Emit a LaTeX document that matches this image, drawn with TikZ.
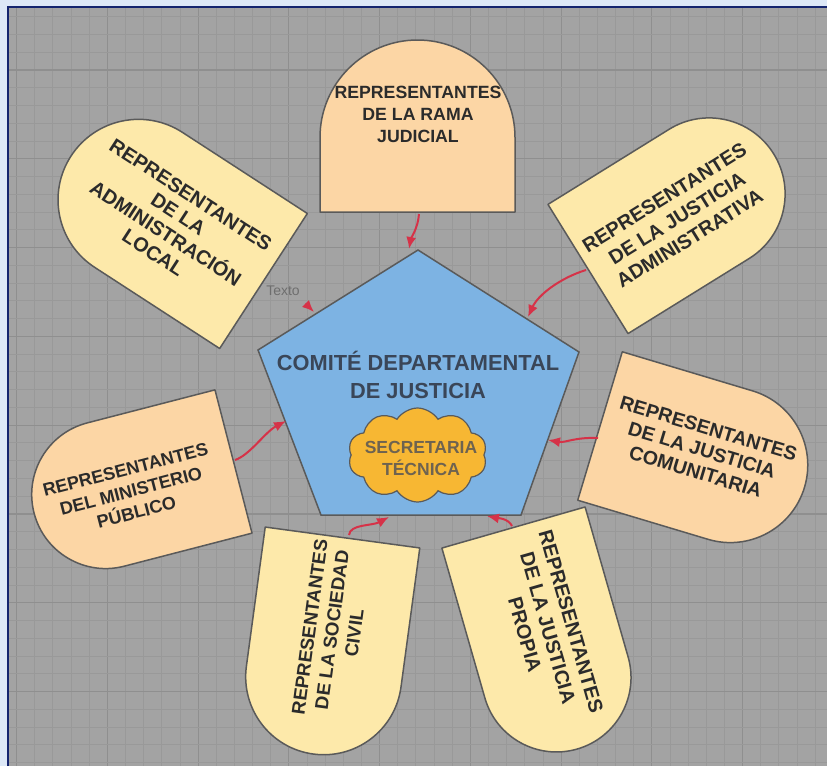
\documentclass[tikz,border=0pt]{standalone}
\usepackage{fontspec}
\setmainfont{Liberation Sans}
\usetikzlibrary{shapes.symbols,arrows.meta,calc}
\definecolor{outerbg}{HTML}{DDE8F7}
\definecolor{navy}{HTML}{14246E}
\definecolor{gridbg}{HTML}{A3A3A3}
\definecolor{gridminor}{HTML}{999999}
\definecolor{gridmajor}{HTML}{8F8F8F}
\definecolor{pentblue}{HTML}{7DB3E3}
\definecolor{cloudfill}{HTML}{F7B733}
\definecolor{peach}{HTML}{FCD6A5}
\definecolor{lightyel}{HTML}{FDE9AA}
\definecolor{outlinegray}{HTML}{5A5A5A}
\definecolor{arrowred}{HTML}{D63248}
\definecolor{titletext}{HTML}{3A4658}
\definecolor{cloudtext}{HTML}{6E6350}
\definecolor{shapetext}{HTML}{2B2B2B}
\definecolor{notetext}{HTML}{6E6E6E}
\newcommand{\dshp}[6]{%
  \draw[dshape, fill=#6, shift={(#1,#2)}, rotate=#3]
    (-#4pt,0pt) -- (-#4pt,#5pt) arc[start angle=180,end angle=0,radius=#4pt] -- (#4pt,0pt) -- cycle;}
\begin{document}
\begin{tikzpicture}[x=1pt,y=-1pt,
  dshape/.style={draw=outlinegray, line width=1.5pt, line join=round},
  lbl/.style 2 args={font=\bfseries\fontsize{#1}{#2}\selectfont, text=shapetext, align=center, inner sep=0pt},
  conn/.style={draw=arrowred, line width=2pt, -{Latex[length=12pt,width=10pt]}},
]
\useasboundingbox (0,0) rectangle (827,766);
\fill[outerbg] (0,0) rectangle (827,766);
\fill[gridbg] (8,6) rectangle (827,766);
% grid
\foreach \k in {0,...,44}{
  \pgfmathsetmacro\gx{16.6+18.15*\k}
  \pgfmathtruncatemacro\gm{mod(\k,5)}
  \ifnum\gm=0 \draw[gridmajor, line width=1.2pt] (\gx,8) -- (\gx,766);
  \else \draw[gridminor, line width=0.9pt] (\gx,8) -- (\gx,766); \fi
}
\foreach \k in {0,...,42}{
  \pgfmathsetmacro\gy{16.7+17.76*\k}
  \pgfmathtruncatemacro\gm{mod(\k,5)}
  \ifnum\gm=3 \draw[gridmajor, line width=1.2pt] (9,\gy) -- (827,\gy);
  \else \draw[gridminor, line width=0.9pt] (9,\gy) -- (827,\gy); \fi
}
\draw[navy, line width=2.6pt] (8,766) -- (8,7) -- (827,7);

% D shapes
\dshp{417.5}{212}{0}{97.5}{74.5}{peach}
\dshp{263.5}{281}{57}{80.5}{149}{lightyel}
\dshp{588}{269}{-58.2}{76}{142.5}{lightyel}
\dshp{600}{426}{-106.7}{77.5}{136}{peach}
\dshp{233.5}{461.5}{104.5}{74}{132}{peach}
\dshp{342.5}{537.5}{172.3}{78}{140.5}{lightyel}
\dshp{513.5}{527.5}{-164}{74.5}{156}{lightyel}

% pentagon
\coordinate (P1) at (418,250);
\coordinate (P2) at (579,352);
\coordinate (P3) at (521,515);
\coordinate (P4) at (321,515);
\coordinate (P5) at (258,350);
\draw[fill=pentblue, draw=outlinegray, line width=1.5pt, line join=miter] (P1) -- (P2) -- (P3) -- (P4) -- (P5) -- cycle;
\node[font=\bfseries\fontsize{21.8}{28}\selectfont, text=titletext, align=center, inner sep=0pt] (comite) at (418,375) {COMITÉ DEPARTAMENTAL\\DE JUSTICIA};

% cloud
\node[cloud, cloud puffs=10, cloud puff arc=115, aspect=1.45, draw=outlinegray, fill=cloudfill, line width=1.2pt, minimum width=139pt, minimum height=94pt, inner sep=0pt] (sec) at (417.5,455) {};
\node[font=\bfseries\fontsize{17.5}{22}\selectfont, text=cloudtext, align=center, inner sep=0pt] (sectext) at (421,458) {SECRETARIA\\TÉCNICA};

% shape labels
\node[lbl={17.7}{22}] (t1) at (418,114) {REPRESENTANTES\\DE LA RAMA\\JUDICIAL};
\node[lbl={20}{23}, rotate=-33] (t2) at (172,224) {REPRESENTANTES\\DE LA\\ADMINISTRACIÓN\\LOCAL};
\node[lbl={20}{24}, rotate=31.8] (t3) at (677,218) {REPRESENTANTES\\DE LA JUSTICIA\\ADMINISTRATIVA};
\node[lbl={19.5}{22.5}, rotate=-16.7] (t4) at (702,450) {REPRESENTANTES\\DE LA JUSTICIA\\COMUNITARIA};
\node[lbl={18}{22}, rotate=14.5] (t5) at (131,491) {REPRESENTANTES\\DEL MINISTERIO\\PÚBLICO};
\node[lbl={18.7}{22.5}, rotate=82.3] (t6) at (332,630) {REPRESENTANTES\\DE LA SOCIEDAD\\CIVIL};
\node[lbl={20}{24}, rotate=-74] (t7) at (548,628) {REPRESENTANTES\\DE LA JUSTICIA\\PROPIA};

\node[font=\fontsize{14}{16}\selectfont, text=notetext, inner sep=0pt] (texto) at (283,291) {Texto};

% connector endpoints
\coordinate (a1s) at (419,214); \coordinate (a1e) at (409,249);
\coordinate (a2s) at (305.5,303.5); \coordinate (a2e) at (314,312);
\coordinate (a3s) at (586,270); \coordinate (a3e) at (528,317);
\coordinate (a4s) at (598,438); \coordinate (a4e) at (548,440);
\coordinate (a5s) at (235,460); \coordinate (a5e) at (286,421);
\coordinate (a6s) at (349,535); \coordinate (a6e) at (389,517);
\coordinate (a7s) at (512,526); \coordinate (a7e) at (487,516);

\draw[conn] (a1s) .. controls (418,228) and (411,238) .. (a1e);
\draw[conn] (a2s) -- (a2e);
\draw[conn] (a3s) .. controls (560,278) and (538,295) .. (a3e);
\draw[conn] (a4s) .. controls (575,437) and (565,443) .. (a4e);
\draw[conn] (a5s) .. controls (250,455) and (265,432) .. (a5e);
\draw[conn] (a6s) .. controls (350,524) and (372,526) .. (a6e);
\draw[conn] (a7s) .. controls (508,518) and (497,518) .. (a7e);
\end{tikzpicture}
\end{document}
